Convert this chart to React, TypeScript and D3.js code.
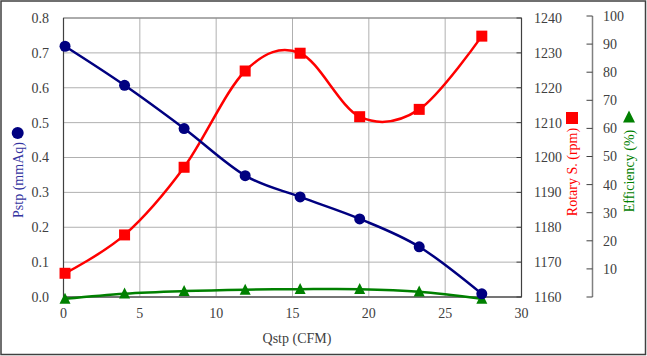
import React from "react";
import * as d3 from "d3";

const flow = [0.1, 4.0, 7.9, 11.9, 15.5, 19.4, 23.3, 27.4];
const pressure = [0.719, 0.607, 0.483, 0.348, 0.287, 0.224, 0.144, 0.009];
const rpm = [1166.8, 1177.8, 1197.2, 1224.8, 1229.9, 1211.7, 1213.8, 1234.8];
const efficiency = [-0.6, 1.2, 2.1, 2.6, 2.8, 2.8, 1.9, -0.6];

const xTicks = [0, 5, 10, 15, 20, 25, 30];
const pTicks = [0, 0.1, 0.2, 0.3, 0.4, 0.5, 0.6, 0.7, 0.8];
const rTicks = [1160, 1170, 1180, 1190, 1200, 1210, 1220, 1230, 1240];
const eTicks = [0, 10, 20, 30, 40, 50, 60, 70, 80, 90, 100];

const W = 647;
const H = 356;
const L = 63.5, R = 521.5, T = 18, B = 297;
const FONT = '"Times New Roman", "Liberation Serif", "DejaVu Serif", serif';
const NAVY = "#000080";
const RED = "#ff0000";
const GREEN = "#008000";
const TXT = "#404040";
const ts: React.CSSProperties = { fontFamily: FONT, fontSize: "14px" };

export default function App() {
  const x = d3.scaleLinear().domain([0, 30]).range([L, R]);
  const yP = d3.scaleLinear().domain([0, 0.8]).range([B, T]);
  const yR = d3.scaleLinear().domain([1160, 1240]).range([B, T]);
  const yE = d3.scaleLinear().domain([0, 100]).range([B, 16]);
  const curve = d3.curveCardinal.tension(0);

  const lineP = d3.line<number>().x((_, i) => x(flow[i])).y((d) => yP(d)).curve(curve);
  const lineR = d3.line<number>().x((_, i) => x(flow[i])).y((d) => yR(d)).curve(curve);
  const lineE = d3.line<number>().x((_, i) => x(flow[i])).y((d) => yE(d)).curve(curve);

  const tri = (cx: number, cy: number, s: number) =>
    `M${cx},${cy - s * 0.55}L${cx + s / 2},${cy + s * 0.45}L${cx - s / 2},${cy + s * 0.45}Z`;

  const axisX = 592.5;

  return (
    <svg width={W} height={H} style={{ position: "absolute", left: 0, top: 0, background: "#fff", fontFamily: FONT }}>
      <rect x={1} y={1} width={W - 2.5} height={H - 2.5} fill="#fff" stroke="#404040" strokeWidth={1.5} />
      {pTicks.map((t) => (
        <line key={"gy" + t} x1={L} x2={R} y1={yP(t)} y2={yP(t)} stroke="#b0b0b0" strokeWidth={1} />
      ))}
      {xTicks.map((t) => (
        <line key={"gx" + t} x1={x(t)} x2={x(t)} y1={T} y2={B} stroke="#b0b0b0" strokeWidth={1} />
      ))}
      <rect x={L} y={T} width={R - L} height={B - T} fill="none" stroke="#808080" strokeWidth={1} />
      <line x1={L} x2={L} y1={T} y2={B} stroke="#404040" strokeWidth={1.2} />
      <line x1={L} x2={R} y1={B} y2={B} stroke="#404040" strokeWidth={1.2} />
      <line x1={R} x2={R} y1={T} y2={B} stroke="#404040" strokeWidth={1.2} />
      {rTicks.map((t) => (
        <line key={"rt" + t} x1={R - 5} x2={R} y1={yR(t)} y2={yR(t)} stroke="#404040" strokeWidth={1} />
      ))}
      {pTicks.map((t) => (
        <text key={"pl" + t} x={49} y={yP(t)} dy="0.35em" textAnchor="end" style={ts} fill={TXT}>
          {t.toFixed(1)}
        </text>
      ))}
      {xTicks.map((t) => (
        <text key={"xl" + t} x={x(t)} y={B + 16} dy="0.35em" textAnchor="middle" style={ts} fill={TXT}>
          {t}
        </text>
      ))}
      {rTicks.map((t) => (
        <text key={"rl" + t} x={534} y={yR(t)} dy="0.35em" textAnchor="start" style={ts} fill={TXT}>
          {t}
        </text>
      ))}
      <line x1={axisX} x2={axisX} y1={yE(100)} y2={yE(0)} stroke="#808080" strokeWidth={1.5} />
      {eTicks.map((t) => (
        <line key={"et" + t} x1={axisX - 6} x2={axisX} y1={yE(t)} y2={yE(t)} stroke="#404040" strokeWidth={1} />
      ))}
      {eTicks.filter((t) => t > 0).map((t) => (
        <text key={"el" + t} x={603} y={yE(t)} dy="0.35em" textAnchor="start" style={ts} fill={TXT}>
          {t}
        </text>
      ))}
      <path d={lineE(efficiency) || ""} fill="none" stroke={GREEN} strokeWidth={2.5} />
      <path d={lineR(rpm) || ""} fill="none" stroke={RED} strokeWidth={2.5} />
      <path d={lineP(pressure) || ""} fill="none" stroke={NAVY} strokeWidth={2.5} />
      {efficiency.map((d, i) => (
        <path key={"em" + i} d={tri(x(flow[i]), yE(d), 11)} fill={GREEN} />
      ))}
      {rpm.map((d, i) => (
        <rect key={"rm" + i} x={x(flow[i]) - 5.5} y={yR(d) - 5.5} width={11} height={11} fill={RED} />
      ))}
      {pressure.map((d, i) => (
        <circle key={"pm" + i} cx={x(flow[i])} cy={yP(d)} r={5.5} fill={NAVY} />
      ))}
      <text x={297} y={338} dy="0.35em" textAnchor="middle" style={ts} fill={TXT}>
        Qstp (CFM)
      </text>
      <g transform="translate(18,180) rotate(-90)">
        <text x={0} y={0} dy="0.35em" textAnchor="middle" style={ts} fill="#3333a0">
          Pstp (mmAq)
        </text>
      </g>
      <circle cx={17.7} cy={133} r={6} fill={NAVY} />
      <g transform="translate(572,172) rotate(-90)">
        <text x={0} y={0} dy="0.35em" textAnchor="middle" style={ts} fill={RED}>
          Rotary S. (rpm)
        </text>
      </g>
      <rect x={566} y={112} width={12} height={12} fill={RED} />
      <g transform="translate(629,171) rotate(-90)">
        <text x={0} y={0} dy="0.35em" textAnchor="middle" style={ts} fill={GREEN}>
          Efficiency (%)
        </text>
      </g>
      <path d={tri(629, 117, 12)} fill={GREEN} />
    </svg>
  );
}
